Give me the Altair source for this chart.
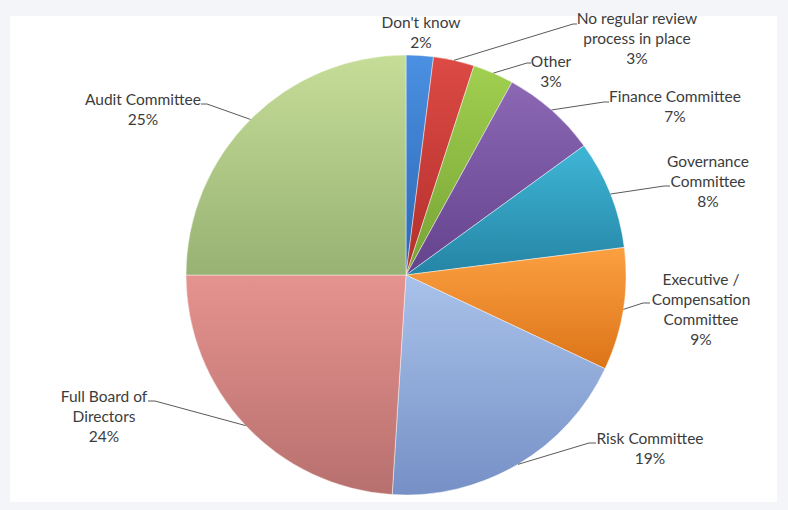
import altair as alt
import pandas as pd

# ---------------- data ----------------
CATEGORIES = [
    "Don't know",
    "No regular review process in place",
    "Other",
    "Finance Committee",
    "Governance Committee",
    "Executive / Compensation Committee",
    "Risk Committee",
    "Full Board of Directors",
    "Audit Committee",
]
LABEL_LINES = [
    "Don't know",
    "No regular review\nprocess in place",
    "Other",
    "Finance Committee",
    "Governance\nCommittee",
    "Executive /\nCompensation\nCommittee",
    "Risk Committee",
    "Full Board of\nDirectors",
    "Audit Committee",
]
SHARES = [2, 3, 3, 7, 8, 9, 19, 24, 25]

# ---------------- styles ----------------
COLOR_TOP = ["#4b90e2", "#dc4a44", "#a0cf50", "#8c68b4", "#3fb6d6", "#fba041",
             "#a9c2ea", "#e6938f", "#c6dd98"]
COLOR_BOTTOM = ["#2c68b2", "#b32f2c", "#76a334", "#64428c", "#2584a5", "#dc7418",
                "#7690c6", "#b7706e", "#97b273"]

CX, CY, R = 406, 275, 220
FONT = "Lato"
FSIZE = 15.5
TEXT_COLOR = "#3c3c3c"
LEADER_COLOR = "#5a5a5a"

# label anchor (center x, first baseline y)
LABEL_POS = {
    "Don't know": (421, 28),
    "No regular review process in place": (637, 24),
    "Other": (551, 67),
    "Finance Committee": (675, 102),
    "Governance Committee": (708, 167),
    "Executive / Compensation Committee": (701, 285),
    "Risk Committee": (650, 444),
    "Full Board of Directors": (104, 402),
    "Audit Committee": (143, 105),
}
# leader bend (x, y) and end x of the short horizontal tail
LEADERS = {
    "No regular review process in place": (573, 24, 577),
    "Other": (527, 63, 531),
    "Finance Committee": (604, 102, 609),
    "Governance Committee": (664, 186, 670),
    "Executive / Compensation Committee": (643, 303, 650),
    "Risk Committee": (589, 443, 596),
    "Full Board of Directors": (155, 401, 148),
    "Audit Committee": (207, 104, 201),
}

df = pd.DataFrame({
    "category": CATEGORIES,
    "label": LABEL_LINES,
    "share": SHARES,
    "order": list(range(len(CATEGORIES))),
})
TOTAL = float(sum(SHARES))

base = (
    alt.Chart(df)
    .transform_joinaggregate(total="sum(share)")
    .transform_window(cum="sum(share)", sort=[alt.SortField("order")], frame=[None, 0])
    .transform_calculate(
        start="datum.cum - datum.share",
        mid_ang="2*PI*(datum.cum - datum.share/2)/datum.total",
    )
    .transform_calculate(
        ex=f"{CX} + {R}*sin(datum.mid_ang)",
        ey=f"{CY} - {R}*cos(datum.mid_ang)",
        txt="datum.label + '\\n' + datum.share + '%'",
    )
)

panel = alt.Chart(pd.DataFrame({"a": [0]})).mark_rect(color="#ffffff").encode(
    x=alt.value(10), x2=alt.value(777), y=alt.value(16), y2=alt.value(502)
)

layers = [panel]

theta_scale = alt.Scale(domain=[0, TOTAL], zero=True, nice=False)
for i, cat in enumerate(CATEGORIES):
    grad = alt.Gradient(
        gradient="linear",
        stops=[alt.GradientStop(color=COLOR_TOP[i], offset=0),
               alt.GradientStop(color=COLOR_BOTTOM[i], offset=1)],
        x1=0, x2=0, y1=0, y2=1,
    )
    layers.append(
        base.transform_filter(alt.datum.category == cat)
        .mark_arc(radius=R, fill=grad, stroke="#ffffff", strokeWidth=0.8, strokeOpacity=0.55)
        .encode(
            theta=alt.Theta("start:Q", stack=None, scale=theta_scale),
            theta2="cum:Q",
            x=alt.value(CX),
            y=alt.value(CY),
        )
    )

for cat, (bx, by, tx) in LEADERS.items():
    sub = base.transform_filter(alt.datum.category == cat)
    layers.append(
        sub.mark_rule(color=LEADER_COLOR, strokeWidth=1).encode(
            x=alt.X("ex:Q", scale=None, axis=None),
            y=alt.Y("ey:Q", scale=None, axis=None),
            x2=alt.value(bx),
            y2=alt.value(by),
        )
    )
    layers.append(
        sub.mark_rule(color=LEADER_COLOR, strokeWidth=1).encode(
            x=alt.value(bx), x2=alt.value(tx), y=alt.value(by)
        )
    )

for cat, (lx, ly) in LABEL_POS.items():
    layers.append(
        base.transform_filter(alt.datum.category == cat)
        .mark_text(
            align="center", baseline="alphabetic", lineBreak="\n", lineHeight=20,
            font=FONT, fontSize=FSIZE, color=TEXT_COLOR,
        )
        .encode(text="txt:N", x=alt.value(lx), y=alt.value(ly))
    )

chart = (
    alt.layer(*layers)
    .properties(width=788, height=510, padding=0, autosize="none", background="#f3f5f8")
    .configure_view(stroke=None)
)

chart.save("out.html", embed_options={"renderer": "svg", "actions": False})
